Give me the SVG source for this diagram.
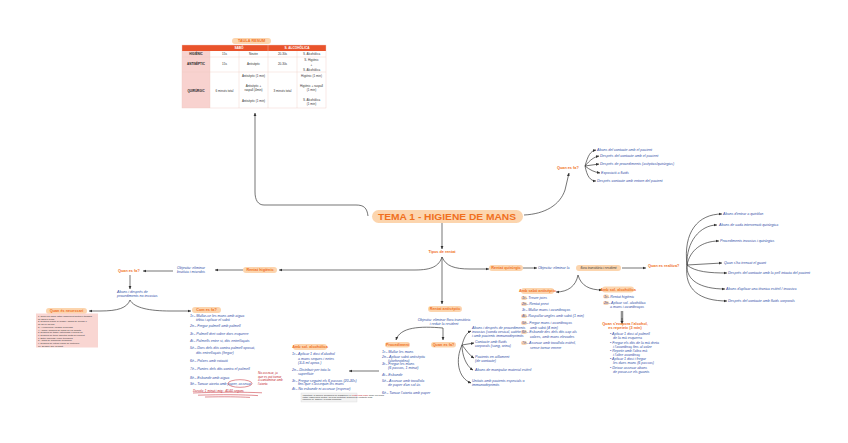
<svg xmlns="http://www.w3.org/2000/svg" width="848" height="443" viewBox="0 0 848 443">
<defs>
<marker id="ah" markerUnits="userSpaceOnUse" viewBox="0 0 6 6" refX="5.5" refY="3" markerWidth="3.4" markerHeight="3.4" orient="auto"><path d="M0,0.5 L6,3 L0,5.5 z" fill="#333"/></marker>
<style>
.c{fill:none;stroke:#3a3a3a;stroke-width:0.7;marker-end:url(#ah)}
.n{fill:none;stroke:#3a3a3a;stroke-width:0.7}
.b{font-family:"Liberation Sans",Arial,sans-serif;font-size:3.6px;fill:#2f4ea8;font-style:italic}
.o{font-family:"Liberation Sans",Arial,sans-serif;font-size:3.8px;fill:#f0701e;font-weight:bold}
.p{fill:#fcd5ae}
.r{font-family:"Liberation Sans",Arial,sans-serif;font-size:3.1px;fill:#c3202a;font-style:italic}
.k{font-family:"Liberation Sans",Arial,sans-serif;font-size:2.3px;fill:#333}
.t{font-family:"Liberation Sans",Arial,sans-serif;font-size:3px;fill:#333;text-anchor:middle}
.th{font-family:"Liberation Sans",Arial,sans-serif;font-size:3.2px;fill:#fff;font-weight:bold;text-anchor:middle}
.tl{font-family:"Liberation Sans",Arial,sans-serif;font-size:3px;fill:#222;font-weight:bold;text-anchor:middle}
.g{stroke:#efc9c2;stroke-width:0.4}
.m{text-anchor:middle}
</style>
</defs>
<rect width="848" height="443" fill="#fff"/>

<g id="connectors">
<path class="c" d="M368,216 C367,208 364,205 356,205 L264,205 C258,205 255,200 255,192 L255,113"/>
<path class="c" d="M524,215 C545,214 560,205 565,190 L569,173"/>
<path class="c" d="M442,223 L442,249"/>
<path class="c" d="M442,257 C439,266 432,270 415,270 L279,270"/>
<path class="c" d="M442,257 L442,304"/>
<path class="c" d="M442,257 C446,266 454,269 470,269 L489,269"/>
<path class="c" d="M243,270 L215,270"/>
<path class="c" d="M173,271 L143,271"/>
<path class="c" d="M130,275 L130,289"/>
<path class="c" d="M130,300 C127,308 118,311 100,311 L89,311"/>
<path class="c" d="M130,300 C134,308 150,311 170,311 L191,311"/>
<path class="c" d="M443,328 C420,326 400,327 396,340"/>
<path class="c" d="M443,328 L443,340"/>
<path class="c" d="M379,371 L349,371"/>
<path class="c" d="M462,345 C464,338 466,333 471,331"/>
<path class="c" d="M462,345 L474,343"/>
<path class="c" d="M462,345 C466,350 469,355 474,358"/>
<path class="c" d="M462,345 C462,355 466,366 473,370"/>
<path class="c" d="M462,345 C455,360 458,378 471,383"/>
<path class="c" d="M523,268 L537,268"/>
<path class="c" d="M622,268 L646,268"/>
<path class="c" d="M578,275 C576,286 568,292 556,292"/>
<path class="c" d="M578,275 C581,286 590,290 602,290"/>
<path class="n" d="M621.3,311 L621.3,322 M622.7,311 L622.7,322"/>
<path class="c" d="M622,318 L622,324"/>
<path class="c" d="M585,166 C588,156 590,151 596,150"/>
<path class="c" d="M585,166 C590,160 594,157 599,156"/>
<path class="c" d="M585,166 L599,164"/>
<path class="c" d="M585,166 C590,170 594,172 600,173"/>
<path class="c" d="M585,166 C587,176 590,181 596,181"/>
<path class="c" d="M687,265 C683,232 698,214 722,214"/>
<path class="c" d="M687,265 C686,242 700,225 717,225"/>
<path class="c" d="M687,265 C690,250 702,241 719,241"/>
<path class="c" d="M687,265 L722,263"/>
<path class="c" d="M687,265 C695,272 710,273 727,273"/>
<path class="c" d="M687,265 C686,280 700,289 725,289"/>
<path class="c" d="M687,265 C684,290 700,301 727,301"/>
</g>

<g id="taula">
<rect class="p" x="232" y="38" width="39" height="6" rx="3"/>
<text class="o m" x="251.5" y="42.3" font-size="3.2">TAULA RESUM</text>
<rect x="182" y="45" width="144" height="6" fill="#e9532b"/>
<rect x="182" y="51" width="28" height="57" fill="#f8d2cf"/>
<rect x="182" y="45" width="144" height="63" fill="none" class="g"/>
<path class="g" d="M182,57 H326 M182,72 H326 M210,51 V108 M239,51 V108 M268,45 V108 M297,51 V108"/>
<text class="th" x="239" y="49.3">SABÓ</text>
<text class="th" x="297" y="49.3">S. ALCOHÒLICA</text>
<text class="tl" x="196" y="55.1">HIGIÈNIC</text>
<text class="tl" x="196" y="65.1">ANTISÈPTIC</text>
<text class="tl" x="196" y="91.5">QUIRÚRGIC</text>
<text class="t" x="224.5" y="55.1">15s</text>
<text class="t" x="253.5" y="55.1">Neutre</text>
<text class="t" x="282.5" y="55.1">20-30s</text>
<text class="t" x="311.5" y="55.1">S. Alcohòlica</text>
<text class="t" x="224.5" y="65.1">15s</text>
<text class="t" x="253.5" y="65.1">Antisèptic</text>
<text class="t" x="282.5" y="65.1">20-30s</text>
<text class="t" x="311.5" y="61">S. Higiènic</text>
<text class="t" x="311.5" y="65.5">+</text>
<text class="t" x="311.5" y="70.5">S. Alcohòlica</text>
<text class="t" x="224.5" y="91.5">6 minuts total</text>
<text class="t" x="253.5" y="77">Antisèptic (1 min)</text>
<text class="t" x="253.5" y="87">Antisèptic +</text>
<text class="t" x="253.5" y="91">raspall (4min)</text>
<text class="t" x="253.5" y="102">Antisèptic (1 min)</text>
<text class="t" x="282.5" y="91.5">3 minuts total</text>
<text class="t" x="311.5" y="77">Higiènic (1 min)</text>
<text class="t" x="311.5" y="87">Higiènic + raspall</text>
<text class="t" x="311.5" y="91">(1 min)</text>
<text class="t" x="311.5" y="101">S. Alcohòlica</text>
<text class="t" x="311.5" y="105">(1 min)</text>
</g>

<g id="titol">
<rect class="p" x="372" y="210" width="151" height="13" rx="6.5"/>
<text x="447" y="219.6" text-anchor="middle" font-family="Liberation Sans, Arial, sans-serif" font-size="9.5" font-weight="bold" fill="#f0701e" textLength="138" lengthAdjust="spacingAndGlyphs">TEMA 1 - HIGIENE DE MANS</text>
</g>

<g id="tipus">
<text class="o m" x="442" y="253.3" font-size="3">Tipus de rentat</text>
</g>

<g id="quan-top">
<text class="o" x="557" y="169.3">Quan es fa?</text>
</g>
<g id="quan-top-items">
<text class="b" x="597" y="151.2">Abans del contacte amb el pacient</text>
<text class="b" x="600" y="157.2">Després del contacte amb el pacient</text>
<text class="b" x="600" y="165.2">Després de procediments (asèptics/quirúrgics)</text>
<text class="b" x="601" y="174.2">Exposició a fluids</text>
<text class="b" x="597" y="182.2">Després contacte amb entorn del pacient</text>
</g>

<g id="rentat-higienic">
<rect class="p" x="243" y="267" width="34" height="6" rx="3"/>
<text class="o m" x="260" y="271.3" font-size="3.4">Rentat higiènic</text>
</g>
<g id="objectiu-h">
<text class="b m" x="191" y="268.7">Objectiu: eliminar</text>
<text class="b m" x="191" y="273">brutícia i microbis</text>
</g>
<g id="quan-h">
<text class="o" x="118" y="272.4">Quan es fa?</text>
</g>
<g id="quan-h-text">
<text class="b" x="117" y="292.5">Abans i després de</text>
<text class="b" x="117" y="297">procediments no invasius</text>
</g>

<g id="necessari">
<rect class="p" x="46" y="308" width="41" height="6" rx="3"/>
<text class="o m" x="66.5" y="312.3" font-size="3.3">Quan és necessari</text>
</g>
<g id="necessari-llista">
<rect x="36" y="313.5" width="62" height="34" fill="#f9d6d2"/>
<text class="k" x="38" y="317">1. Quan les mans estan visiblement brutes o tacades</text>
<text class="k" x="38" y="319.7">    de sang o fluids</text>
<text class="k" x="38" y="322.4">2. Després d'anar al lavabo i abans de menjar o</text>
<text class="k" x="38" y="325.1">    de servir menjar</text>
<text class="k" x="38" y="327.8">3. Al començar i acabar la jornada</text>
<text class="k" x="38" y="330.5">4. Abans i després de posar-se els guants</text>
<text class="k" x="38" y="333.2">5. Després de tossir, esternudar o mocar-se</text>
<text class="k" x="38" y="335.9">6. Després de tocar objectes bruts del pacient</text>
<text class="k" x="38" y="338.6">7. Entre pacients i entre tècniques</text>
<text class="k" x="38" y="341.3">8. Abans de manipular medicació</text>
<text class="k" x="38" y="344">9. Després de retirar l'equip de protecció</text>
<text class="k" x="38" y="346.7">10. Sempre que es dubti</text>
</g>

<g id="com-h">
<rect class="p" x="192" y="307" width="29" height="6" rx="3"/>
<text class="o m" x="206.5" y="311.3" font-size="3.4">Com es fa?</text>
</g>
<g id="com-h-llista">
<text class="b" x="190" y="317">1r.- Mullar-se les mans amb aigua</text>
<text class="b" x="196" y="321">tèbia i aplicar el sabó</text>
<text class="b" x="190" y="327">2n.- Fregar palmell amb palmell</text>
<text class="b" x="190" y="335">3r.- Palmell dret sobre dors esquerre</text>
<text class="b" x="190" y="342">4t.- Palmells entre si, dits entrellaçats</text>
<text class="b" x="190" y="349">5è.- Dors dels dits contra palmell oposat,</text>
<text class="b" x="196" y="354">dits entrellaçats (fregar)</text>
<text class="b" x="190" y="362">6è.- Polzes amb rotació</text>
<text class="b" x="190" y="370">7è.- Puntes dels dits contra el palmell</text>
<text class="b" x="190" y="379">8è.- Esbandir amb aigua</text>
<text class="b" x="190" y="384.5">9è.- Tancar aixeta amb paper, assecar</text>
<ellipse cx="240" cy="383.5" rx="12" ry="3.8" fill="none" stroke="#c3202a" stroke-width="0.5"/>
<text class="r" x="258" y="374">No assecar, ja</text>
<text class="r" x="258" y="377.5">que es pot tornar</text>
<text class="r" x="258" y="381">a contaminar amb</text>
<text class="r" x="258" y="384.5">l'aixeta</text>
<text class="r" x="193" y="391.5" font-size="3.4">Durada: 1 minut i mig · 40-60 segons</text>
<path d="M193,393 C215,392 245,392 262,392.8 M198,395.2 C222,394.4 242,394.6 258,395.6 M205,397 C225,396.6 238,396.8 250,397.4" fill="none" stroke="#c3202a" stroke-width="0.5"/>
</g>

<g id="com-sa">
<rect class="p" x="293" y="344" width="34" height="6" rx="3"/>
<text class="o m" x="310" y="348.3" font-size="3.3">Amb sol. alcohòlica</text>
</g>
<g id="com-sa-llista">
<text class="b" x="292" y="355">1r.- Aplicar 1 dosi d'alcohol</text>
<text class="b" x="298" y="359.5">a mans seques i netes</text>
<text class="b" x="298" y="364">(3-5 ml aprox.)</text>
<text class="b" x="292" y="371">2n.- Distribuir per tota la</text>
<text class="b" x="298" y="375">superfície</text>
<text class="b" x="292" y="381.5">3r.- Fregar seguint els 6 passos (20-30s)</text>
<text class="b" x="298" y="385">fins que s'assequin les mans</text>
<text class="b" x="292" y="390">4t.- No esbandir ni assecar (esperar)</text>
<rect x="301" y="393" width="56" height="9" fill="#f3f3f3" stroke="#d0d0d0" stroke-width="0.3"/>
<text class="k" x="302.5" y="395.6" font-size="1.9">Important: la solució alcohòlica no substitueix el <tspan fill="#c3202a">rentat amb sabó</tspan> quan les mans</text>
<text class="k" x="302.5" y="397.8" font-size="1.9">estan visiblement brutes. No s'ha d'utilitzar després de contacte amb</text>
<text class="k" x="302.5" y="400" font-size="1.9">espores (C. difficile) ni fluids corporals.</text>
</g>

<g id="rentat-antiseptic">
<rect class="p" x="428" y="306" width="34" height="6" rx="3"/>
<text class="o m" x="445" y="310.3" font-size="3.4">Rentat antisèptic</text>
</g>
<g id="objectiu-a">
<text class="b m" x="444" y="320.5">Objectiu: eliminar flora transitòria</text>
<text class="b m" x="444" y="324.7">i reduir la resident</text>
</g>
<g id="procediment">
<rect class="p" x="385" y="342" width="25" height="5.5" rx="2.7"/>
<text class="o m" x="397.5" y="346" font-size="3.3">Procediment</text>
</g>
<g id="procediment-llista">
<text class="b" x="382" y="353">1r.- Mullar les mans</text>
<text class="b" x="382" y="358">2n.- Aplicar sabó antisèptic</text>
<text class="b" x="388" y="361.5">(clorhexidina)</text>
<text class="b" x="382" y="365">3r.- Fregar les mans</text>
<text class="b" x="388" y="368.5">(6 passos, 1 minut)</text>
<text class="b" x="382" y="376">4t.- Esbandir</text>
<text class="b" x="382" y="382">5è.- Assecar amb tovallola</text>
<text class="b" x="388" y="386">de paper d'un sol ús</text>
<text class="b" x="382" y="394">6è.- Tancar l'aixeta amb paper</text>
</g>
<g id="quan-a">
<rect class="p" x="431" y="342" width="25" height="5.5" rx="2.7"/>
<text class="o m" x="443.5" y="346" font-size="3.3">Quan es fa?</text>
</g>
<g id="quan-a-llista">
<text class="b" x="472" y="329">Abans i després de procediments</text>
<text class="b" x="472" y="333">invasius (sonda vesical, catèter)</text>
<text class="b" x="472" y="337">i amb pacients immunodeprimits</text>
<text class="b" x="475" y="343">Contacte amb fluids</text>
<text class="b" x="475" y="347">corporals (sang, orina)</text>
<text class="b" x="475" y="358">Pacients en aïllament</text>
<text class="b" x="475" y="362">(de contacte)</text>
<text class="b" x="475" y="371">Abans de manipular material estèril</text>
<text class="b" x="472" y="382">Unitats amb pacients especials o</text>
<text class="b" x="472" y="386">immunodeprimits</text>
</g>

<g id="rentat-quirurgic">
<rect class="p" x="489" y="265" width="34" height="6" rx="3"/>
<text class="o m" x="506" y="269.3" font-size="3.4">Rentat quirúrgic</text>
</g>
<g id="objectiu-q">
<text class="b" x="538" y="269.3">Objectiu: eliminar la</text>
<rect class="p" x="576" y="265" width="45" height="6" rx="3"/>
<text x="598.5" y="269.3" text-anchor="middle" font-family="Liberation Sans, Arial, sans-serif" font-size="3.3" fill="#333" font-style="italic">flora transitòria i resident</text>
</g>
<g id="quan-q">
<text class="o" x="648" y="267.3">Quan es realitza?</text>
</g>
<g id="quan-q-llista">
<text class="b" x="723" y="215.2">Abans d'entrar a quiròfan</text>
<text class="b" x="719" y="226.2">Abans de cada intervenció quirúrgica</text>
<text class="b" x="720" y="242.2">Procediments invasius i quirúrgics</text>
<text class="b" x="724" y="263.5">Quan s'ha trencat el guant</text>
<text class="b" x="728" y="274.2">Després del contacte amb la pell intacta del pacient</text>
<text class="b" x="726" y="290.2">Abans d'aplicar una tècnica estèril / invasiva</text>
<text class="b" x="728" y="302.2">Després del contacte amb fluids corporals</text>
</g>

<g id="amb-sabo">
<rect class="p" x="521" y="288" width="33" height="6" rx="3"/>
<text class="o m" x="537.5" y="292.2" font-size="3.3">Amb sabó antisèptic</text>
</g>
<g id="amb-sabo-llista">
<rect class="p" x="521" y="296" width="6" height="4" rx="2"/>
<rect class="p" x="521" y="302" width="6" height="4" rx="2"/>
<rect class="p" x="521" y="314" width="6" height="4" rx="2"/>
<rect class="p" x="521" y="321" width="6" height="4" rx="2"/>
<rect class="p" x="521" y="330" width="6" height="4" rx="2"/>
<rect class="p" x="521" y="341" width="6" height="4" rx="2"/>
<text class="b" x="522" y="299">1r.- Treure joies</text>
<text class="b" x="522" y="305">2n.- Rentat previ</text>
<text class="b" x="522" y="311">3r.- Mullar mans i avantbraços</text>
<text class="b" x="522" y="317">4t.- Raspallar ungles amb sabó (1 min)</text>
<text class="b" x="522" y="324">5è.- Fregar mans i avantbraços</text>
<text class="b" x="530" y="329">amb sabó (4 min)</text>
<text class="b" x="522" y="333">6è.- Esbandir des dels dits cap als</text>
<text class="b" x="530" y="338">colzes, amb mans elevades</text>
<text class="b" x="522" y="344">7è.- Assecar amb tovallola estèril,</text>
<text class="b" x="530" y="349">sense tornar enrere</text>
</g>

<g id="amb-sa">
<rect class="p" x="602" y="286.5" width="32" height="6" rx="3"/>
<text class="o m" x="618" y="290.7" font-size="3.3">Amb sol. alcohòlica</text>
</g>
<g id="amb-sa-llista">
<rect class="p" x="603" y="294.5" width="6" height="4" rx="2"/>
<rect class="p" x="603" y="301" width="6" height="4" rx="2"/>
<text class="b" x="604" y="297.5">1r.- Rentat higiènic</text>
<text class="b" x="604" y="304">2n.- Aplicar sol. alcohòlica</text>
<text class="b" x="610" y="308">a mans i avantbraços</text>
</g>
<g id="quan-sa">
<text class="o m" x="625" y="325" font-size="3.2">Quan s'evapora l'alcohol,</text>
<text class="o m" x="625" y="329" font-size="3.2">es repeteix (3 min)</text>
</g>
<g id="quan-sa-llista">
<text class="b" x="610" y="335">•  Aplicar 1 dosi al palmell</text>
<text class="b" x="613" y="338.5">de la mà esquerra</text>
<text class="b" x="610" y="344">•  Fregar els dits de la mà dreta</text>
<text class="b" x="613" y="347.5">i l'avantbraç fins al colze</text>
<text class="b" x="610" y="352">•  Repetir amb l'altra mà</text>
<text class="b" x="613" y="356">i l'altre avantbraç</text>
<text class="b" x="610" y="360">•  Aplicar 1 dosi i fregar</text>
<text class="b" x="613" y="364">les dues mans (6 passos)</text>
<text class="b" x="610" y="369">•  Deixar assecar abans</text>
<text class="b" x="613" y="373">de posar-se els guants</text>
</g>
</svg>
